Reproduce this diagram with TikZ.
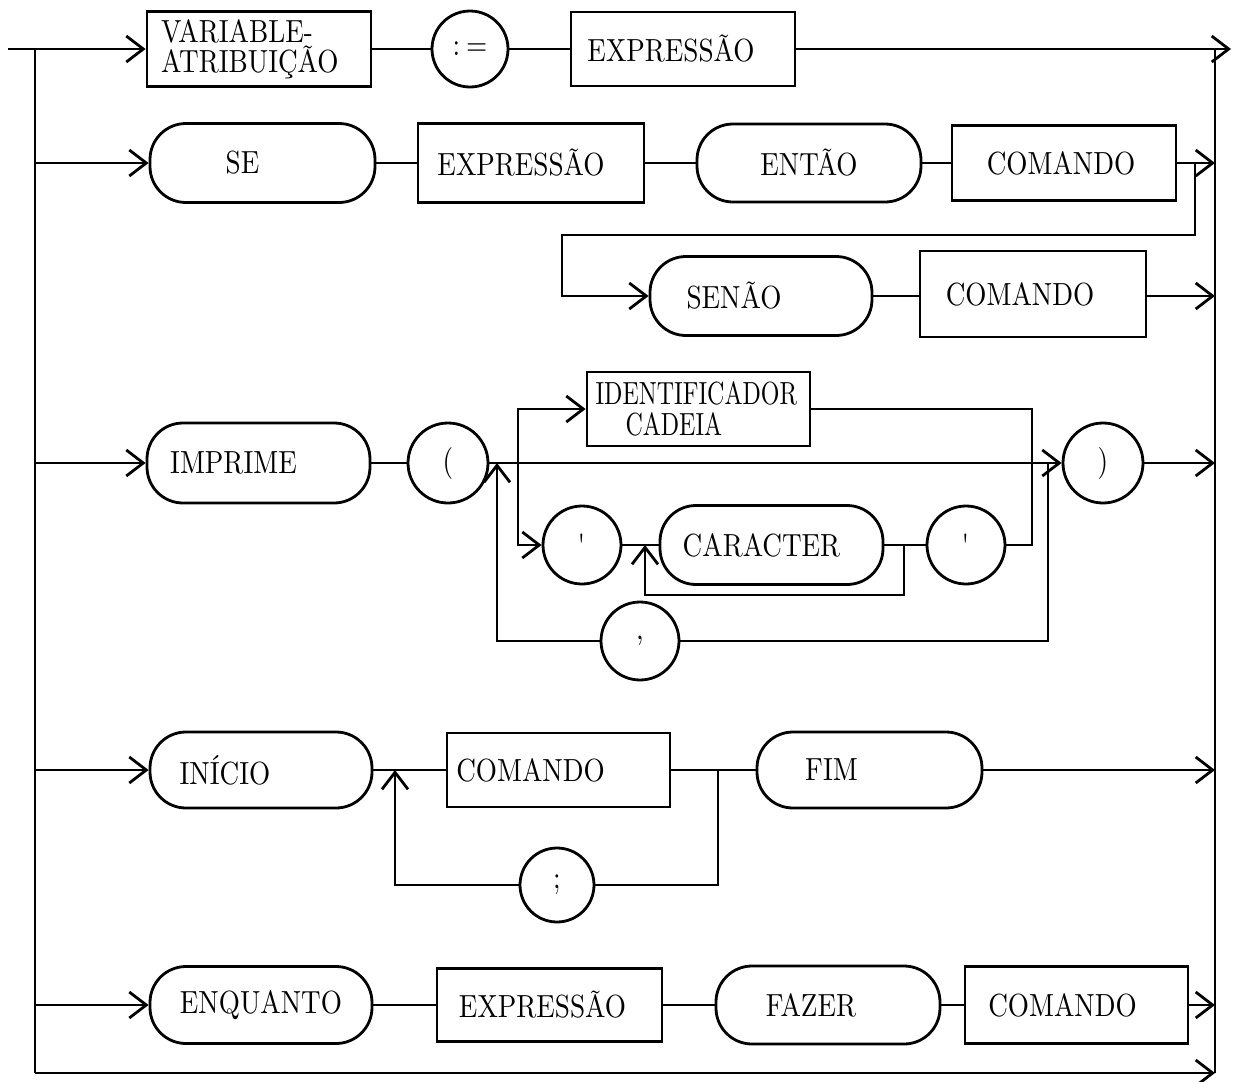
\documentclass[tikz,border=0pt]{standalone}
\usepackage{fontspec}
\newfontfamily\diagfont{lmroman10-regular.otf}[FakeStretch=0.85]
\newfontfamily\narrowfont{lmroman10-regular.otf}[FakeStretch=0.75]
\usetikzlibrary{arrows.meta}
\newcommand\tsh[2]{\makebox[0pt]{\hspace*{#1}#2}}
\tikzset{
  base/.style={draw, line width=1.4pt, inner sep=0pt, font=\diagfont\fontsize{16}{17}\selectfont},
  rbox/.style={base, rectangle},
  stad/.style={base, rectangle, rounded corners=18pt},
  circ/.style={base, circle},
  arr/.style={-{Straight Barb[length=8.5pt,width=13pt]}},
}
\begin{document}
\begin{tikzpicture}[x=0.5pt, y=-0.5pt, line width=1.4pt, line join=miter]
\useasboundingbox (0,0) rectangle (1233,1082);

% ---------- rails ----------
\coordinate (in) at (8,49);
\coordinate (lt) at (35,49);
\coordinate (lb) at (35,1073);
\coordinate (rt) at (1215,49);
\coordinate (rb) at (1215,1073);
\coordinate (out) at (1231,49);

% ---------- row 1 ----------
\node[rbox, minimum width=112pt, minimum height=37.5pt, text width=98pt, inner xsep=6.5pt, align=left] (var) at (259,49) {VARIABLE-\\[-2pt]ATRIBUIÇÃO};
\node[circ, minimum size=38pt] (asg) at (470,49) {:\hspace{3pt}=};
\node[rbox, minimum width=112pt, minimum height=37pt] (ex1) at (683,49) {\tsh{-12pt}{EXPRESSÃO}};

% ---------- row 2 ----------
\node[stad, minimum width=112.5pt, minimum height=39.5pt] (se) at (262.5,163) {\tsh{-20pt}{SE}};
\node[rbox, minimum width=113pt, minimum height=39.5pt] (ex2) at (531,163) {\tsh{-10pt}{EXPRESSÃO}};
\node[stad, minimum width=112pt, minimum height=39pt] (ent) at (809,163) {ENTÃO};
\node[rbox, minimum width=112pt, minimum height=37.5pt] (cm2) at (1064,163) {\tsh{-3pt}{COMANDO}};
\coordinate (j2) at (1195,163);
\coordinate (k2) at (562,235);
\node[stad, minimum width=111pt, minimum height=39.5pt] (sen) at (761,296) {\tsh{-27pt}{SENÃO}};
\node[rbox, minimum width=113pt, minimum height=43pt] (cm3) at (1033,294) {\tsh{-13pt}{COMANDO}};

% ---------- row 3 ----------
\node[stad, minimum width=111.5pt, minimum height=40pt] (imp) at (258.5,463) {\tsh{-25pt}{IMPRIME}};
\node[circ, minimum size=40pt] (lp) at (448,463) {(};
\node[circ, minimum size=40pt] (rp) at (1103,463) {)};
\node[rbox, minimum width=111.5pt, minimum height=37pt, text width=103pt, inner xsep=4.25pt, align=left,
      font=\narrowfont\fontsize{16}{15.5}\selectfont] (idc) at (698.5,409) {IDENTIFICADOR\\\hspace*{15pt}CADEIA};
\node[circ, minimum size=39pt] (q1) at (582,545) {\textquotesingle};
\node[stad, minimum width=111.5pt, minimum height=39.5pt] (car) at (771.5,545) {\tsh{-10pt}{CARACTER}};
\node[circ, minimum size=39pt] (q2) at (966,545) {\textquotesingle};
\node[circ, minimum size=39pt] (cma) at (640,641) {,};
\coordinate (b3) at (497,463);
\coordinate (b1) at (518,463);
\coordinate (b2) at (1032,463);
\coordinate (b4) at (1048,463);
\coordinate (c1) at (904,545);
\coordinate (c2) at (645,545);

% ---------- row 4 ----------
\node[stad, minimum width=111pt, minimum height=38pt] (ini) at (261,770) {\tsh{-36pt}{INÍCIO}};
\node[rbox, minimum width=111.5pt, minimum height=37pt] (cm4) at (558.5,770) {\tsh{-28pt}{COMANDO}};
\node[stad, minimum width=112.5pt, minimum height=38pt] (fim) at (869.5,770) {\tsh{-38pt}{FIM}};
\node[circ, minimum size=37pt] (smc) at (557,885) {;};
\coordinate (b5) at (395,770);
\coordinate (b6) at (718,770);

% ---------- row 5 ----------
\node[stad, minimum width=111pt, minimum height=38.5pt] (enq) at (261,1005) {ENQUANTO};
\node[rbox, minimum width=112.5pt, minimum height=36.5pt] (ex5) at (549.5,1005) {\tsh{-7pt}{EXPRESSÃO}};
\node[stad, minimum width=112pt, minimum height=39pt] (faz) at (828,1005) {\tsh{-17pt}{FAZER}};
\node[rbox, minimum width=111.5pt, minimum height=38.5pt] (cm5) at (1076.5,1005) {\tsh{-14pt}{COMANDO}};

% ---------- connectors ----------
\draw (lt) -- (lb);
\draw (rt) -- (rb);
\draw[arr] (lb) -- (rb);

\draw[arr] (in) -- (var.west);
\draw (var.east) -- (asg.west);
\draw (asg.east) -- (ex1.west);
\draw[arr] (ex1.east) -- (out);

\draw[arr] (lt |- se.west) -- (se.west);
\draw (se.east) -- (ex2.west);
\draw (ex2.east) -- (ent.west);
\draw (ent.east) -- (cm2.west);
\draw[arr] (cm2.east) -- (cm2.east -| rt);
\draw[arr] (j2) |- (k2) |- (sen.west);
\draw (sen.east) -- (sen.east -| cm3.west);
\draw[arr] (sen.east -| cm3.east) -- (sen.east -| rt);

\draw[arr] (lt |- imp.west) -- (imp.west);
\draw (imp.east) -- (lp.west);
\draw[arr] (lp.east) -- (rp.west);
\draw[arr] (rp.east) -- (rp.east -| rt);
\draw[arr] (b1) |- (idc.west);
\draw[arr] (b1) |- (q1.west);
\draw (idc.east) -| (b2);
\draw (q2.east) -| (b2);
\draw (q1.east) -- (car.west);
\draw (car.east) -- (q2.west);
\draw[arr] (c1) -- ++(0,50) -| (c2);
\draw (b4) |- (cma.east);
\draw[arr] (cma.west) -| (b3);

\draw[arr] (lt |- ini.west) -- (ini.west);
\draw (ini.east) -- (cm4.west);
\draw (cm4.east) -- (fim.west);
\draw[arr] (fim.east) -- (fim.east -| rt);
\draw (b6) |- (smc.east);
\draw[arr] (smc.west) -| (b5);

\draw[arr] (lt |- enq.west) -- (enq.west);
\draw (enq.east) -- (ex5.west);
\draw (ex5.east) -- (faz.west);
\draw (faz.east) -- (cm5.west);
\draw[arr] (cm5.east) -- (cm5.east -| rt);
\end{tikzpicture}
\end{document}
